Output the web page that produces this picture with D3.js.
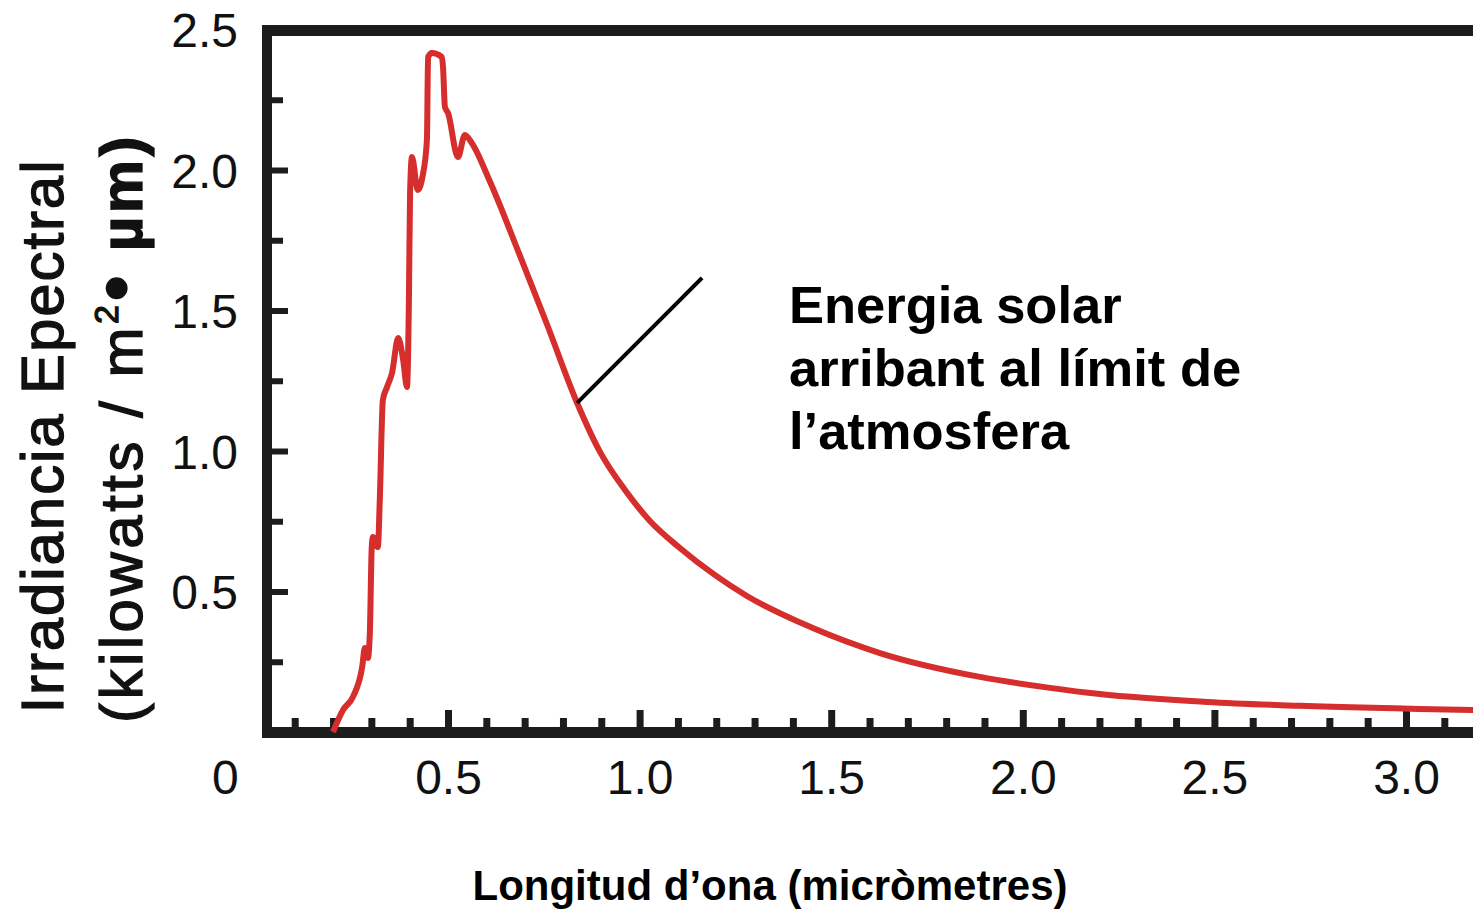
<!DOCTYPE html>
<html>
<head>
<meta charset="utf-8">
<script src="https://cdn.jsdelivr.net/npm/d3@7"></script>
<style>
  body { margin: 0; background: #fff; }
  svg { display: block; font-family: "Liberation Sans", Arial, sans-serif; }
</style>
</head>
<body>
<div id="chart"></div>
<script>
// wavelength (micrometres) and spectral irradiance (kW / m2 / um)
const wavelength = [0.200, 0.226, 0.252, 0.276, 0.283, 0.291, 0.296, 0.301, 0.304, 0.317,
                    0.322, 0.330, 0.341, 0.354, 0.370, 0.383, 0.393, 0.398, 0.401, 0.406,
                    0.421, 0.434, 0.445, 0.448, 0.458, 0.484, 0.487, 0.492, 0.500, 0.526,
                    0.544, 0.562, 0.610, 0.688, 0.758, 0.837, 0.897, 0.962, 1.027, 1.105,
                    1.196, 1.280, 1.452, 1.627, 1.888, 2.071, 2.201, 2.481, 2.723, 3.175];
const irradiance = [0.000, 0.078, 0.125, 0.231, 0.299, 0.263, 0.352, 0.658, 0.694, 0.658,
                    0.826, 1.181, 1.228, 1.278, 1.402, 1.324, 1.228, 1.537, 1.918, 2.046,
                    1.929, 1.980, 2.107, 2.402, 2.416, 2.402, 2.367, 2.224, 2.203, 2.046,
                    2.125, 2.096, 1.957, 1.694, 1.452, 1.171, 0.996, 0.861, 0.751, 0.655,
                    0.559, 0.484, 0.370, 0.281, 0.196, 0.157, 0.135, 0.107, 0.093, 0.078];

const xMajorTicks = [0.5, 1.0, 1.5, 2.0, 2.5, 3.0];
const xMinorTicks = [0.1, 0.2, 0.3, 0.4, 0.6, 0.7, 0.8, 0.9, 1.1, 1.2, 1.3, 1.4, 1.6, 1.7, 1.8, 1.9,
                     2.1, 2.2, 2.3, 2.4, 2.6, 2.7, 2.8, 2.9, 3.1];
const yMajorTicks = [0.5, 1.0, 1.5, 2.0, 2.5];
const yMinorTicks = [0.25, 0.75, 1.25, 1.75, 2.25];
const originLabel = '0';

const yTitle1 = 'Irradiancia Epectral';
const xTitle = 'Longitud d\u2019ona (micr\u00f2metres)';
const noteLines = ['Energia solar', 'arribant al l\u00edmit de', 'l\u2019atmosfera'];
// leader line: [wavelength, irradiance] of both ends
const noteLine = [[0.837, 1.171], [1.163, 1.616]];

const w = 1473;
const h = 913;
const ink = '#1c1c1c';

const svg = d3.select('#chart')
    .append('svg')
    .attr('width', w)
    .attr('height', h);

svg.append('rect').attr('width', w).attr('height', h).attr('fill', '#fff');

const x = d3.scaleLinear().domain([0, 3.2]).range([256.4, 256.4 + 3.2 * 383.2]);
const y = d3.scaleLinear().domain([0, 2.5]).range([732, 29.5]);

const frameLeft = 267;

// minor ticks first (behind everything)
svg.append('g')
    .attr('transform', 'translate(0,732)')
    .call(d3.axisBottom(x).tickValues(xMinorTicks).tickSize(-14).tickFormat(''))
    .call(g => g.select('.domain').remove())
    .call(g => g.selectAll('line').attr('stroke', ink).attr('stroke-width', 7));

svg.append('g')
    .attr('transform', 'translate(' + frameLeft + ',0)')
    .call(d3.axisLeft(y).tickValues(yMinorTicks).tickSize(-16).tickFormat(''))
    .call(g => g.select('.domain').remove())
    .call(g => g.selectAll('line').attr('stroke', ink).attr('stroke-width', 6));

// major ticks + labels
svg.append('g')
    .attr('transform', 'translate(0,732)')
    .call(d3.axisBottom(x).tickValues(xMajorTicks).tickSize(-22).tickPadding(28).tickFormat(d3.format('.1f')))
    .call(g => g.select('.domain').remove())
    .call(g => g.selectAll('line').attr('stroke', ink).attr('stroke-width', 7))
    .call(g => g.selectAll('text')
        .attr('fill', '#111')
        .style('font-size', '48px')
        .style('font-family', '"Liberation Sans", Arial, sans-serif'));

svg.append('g')
    .attr('transform', 'translate(' + frameLeft + ',0)')
    .call(d3.axisLeft(y).tickValues(yMajorTicks).tickSize(-21).tickPadding(29).tickFormat(d3.format('.1f')))
    .call(g => g.select('.domain').remove())
    .call(g => g.selectAll('line').attr('stroke', ink).attr('stroke-width', 6))
    .call(g => g.selectAll('text')
        .attr('dy', '0.36em')
        .attr('fill', '#111')
        .style('font-size', '48px')
        .style('font-family', '"Liberation Sans", Arial, sans-serif'));

svg.append('text')
    .attr('x', x(0) - 31)
    .attr('y', 794)
    .attr('text-anchor', 'middle')
    .attr('fill', '#111')
    .style('font-size', '48px')
    .text(originLabel);

// frame
svg.append('line')
    .attr('x1', frameLeft - 5).attr('x2', w)
    .attr('y1', y(2.5) + 1).attr('y2', y(2.5) + 1)
    .attr('stroke', ink).attr('stroke-width', 11);
svg.append('line')
    .attr('x1', frameLeft - 5).attr('x2', w)
    .attr('y1', 732.5).attr('y2', 732.5)
    .attr('stroke', ink).attr('stroke-width', 11);
svg.append('line')
    .attr('x1', frameLeft).attr('x2', frameLeft)
    .attr('y1', 25).attr('y2', 738)
    .attr('stroke', ink).attr('stroke-width', 10);

// curve
const pts = wavelength.map((d, i) => [d, irradiance[i]]);
const line = d3.line()
    .x(d => x(d[0]))
    .y(d => y(d[1]))
    .curve(d3.curveMonotoneX);

svg.append('path')
    .datum(pts)
    .attr('d', line)
    .attr('fill', 'none')
    .attr('stroke', '#d62d2d')
    .attr('stroke-width', 6)
    .attr('stroke-linejoin', 'round');

// annotation
svg.append('line')
    .attr('x1', x(noteLine[0][0])).attr('y1', y(noteLine[0][1]))
    .attr('x2', x(noteLine[1][0])).attr('y2', y(noteLine[1][1]))
    .attr('stroke', '#000')
    .attr('stroke-width', 4);

svg.append('text')
    .attr('x', 789)
    .attr('y', 323)
    .attr('fill', '#000')
    .style('font-size', '52.5px')
    .style('font-weight', 'bold')
    .selectAll('tspan')
    .data(noteLines)
    .enter()
    .append('tspan')
    .attr('x', 789)
    .attr('dy', (d, i) => i === 0 ? 0 : 63)
    .text(d => d);

// axis titles
svg.append('text')
    .attr('transform', 'translate(63,437) rotate(-90)')
    .attr('text-anchor', 'middle')
    .attr('fill', '#111')
    .attr('stroke', '#111')
    .attr('stroke-width', 1.3)
    .style('font-size', '60px')
    .attr('textLength', 553)
    .attr('lengthAdjust', 'spacing')
    .text(yTitle1);

const t2 = svg.append('text')
    .attr('transform', 'translate(142,428) rotate(-90)')
    .attr('text-anchor', 'middle')
    .attr('fill', '#111')
    .attr('stroke', '#111')
    .attr('stroke-width', 1.3)
    .style('font-size', '60px')
    .style('letter-spacing', '3.5px');
t2.append('tspan').text('(kilowatts / m');
t2.append('tspan').attr('dy', -24).style('font-size', '34px').text('2');
t2.append('tspan').attr('dy', 24).style('font-size', '76px').text('\u2022');
t2.append('tspan').style('font-weight', 'bold').text(' \u00b5m)');

svg.append('text')
    .attr('x', 770)
    .attr('y', 900)
    .attr('text-anchor', 'middle')
    .attr('fill', '#000')
    .style('font-size', '42px')
    .style('font-weight', 'bold')
    .text(xTitle);
</script>
</body>
</html>
